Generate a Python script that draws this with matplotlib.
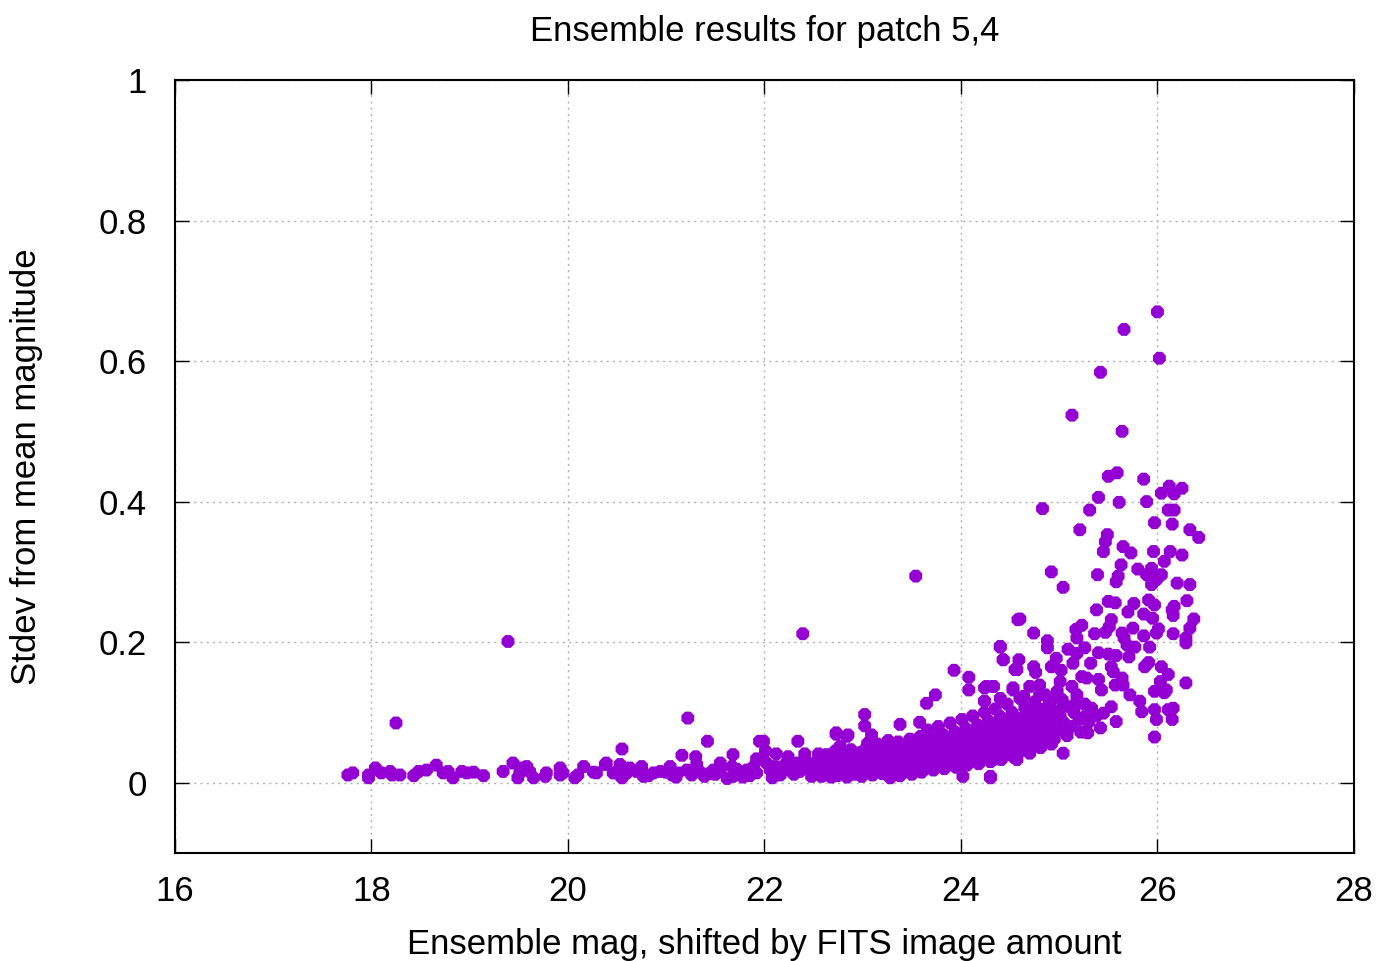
import numpy as np
import matplotlib
matplotlib.use('Agg')
import matplotlib.pyplot as plt

plt.rcParams['font.family'] = ['Liberation Sans', 'DejaVu Sans']

# bright end, sparse flat part (mag 17.7 - 20.6)
bright_x = [17.76, 17.81, 17.97, 17.97, 18.04, 18.10, 18.19, 18.21, 18.29, 18.43,
            18.48, 18.56, 18.66, 18.73, 18.78, 18.83, 18.92, 18.97, 19.04, 19.14,
            19.34, 19.44, 19.51, 19.53, 19.58, 19.61, 19.49, 19.65, 19.78, 19.77,
            19.92, 19.92, 19.95, 20.07, 20.10, 20.16, 20.26, 20.29, 20.38, 20.39,
            20.46, 20.53, 20.55, 20.56, 20.60, 18.25, 19.39, 20.55]
bright_y = [0.011, 0.014, 0.011, 0.007, 0.021, 0.014, 0.016, 0.011, 0.011, 0.010,
            0.016, 0.018, 0.025, 0.014, 0.016, 0.007, 0.016, 0.014, 0.015, 0.010,
            0.016, 0.028, 0.014, 0.021, 0.023, 0.016, 0.007, 0.007, 0.014, 0.009,
            0.021, 0.011, 0.014, 0.007, 0.011, 0.023, 0.015, 0.014, 0.026, 0.028,
            0.014, 0.026, 0.007, 0.016, 0.014, 0.085, 0.201, 0.048]

# mid range (mag 20.6 - 22.8)
mid_x = [20.48, 20.63, 20.70, 20.75, 20.77, 20.87, 20.94, 21.04, 21.06, 21.12,
         21.21, 21.26, 21.31, 21.34, 21.39, 21.48, 21.55, 21.56, 21.67, 21.68,
         21.75, 21.82, 21.89, 21.92, 22.02, 22.06, 22.11, 22.16, 22.21, 22.26,
         22.33, 22.36, 22.43, 22.46, 22.53, 22.58, 22.67, 22.70, 22.73, 22.77,
         22.80, 22.84, 21.22, 21.42, 22.39, 21.95, 21.99, 22.34, 22.73, 22.84,
         21.16, 21.68, 22.01, 21.30, 22.12, 22.24, 22.41, 22.55, 21.92, 20.82,
         21.10, 21.50, 21.62, 21.78, 21.85, 22.08, 22.30, 22.48, 22.62, 21.00,
         21.44, 21.72, 22.18, 22.40, 22.65]
mid_y = [0.014, 0.021, 0.016, 0.023, 0.009, 0.014, 0.016, 0.023, 0.011, 0.014,
         0.018, 0.011, 0.026, 0.016, 0.009, 0.018, 0.028, 0.021, 0.023, 0.009,
         0.014, 0.018, 0.023, 0.014, 0.028, 0.018, 0.023, 0.011, 0.026, 0.018,
         0.028, 0.016, 0.030, 0.021, 0.026, 0.016, 0.037, 0.023, 0.011, 0.052,
         0.033, 0.023, 0.092, 0.059, 0.212, 0.059, 0.059, 0.059, 0.069, 0.066,
         0.039, 0.040, 0.045, 0.037, 0.041, 0.037, 0.041, 0.041, 0.034, 0.010,
         0.008, 0.012, 0.006, 0.008, 0.010, 0.007, 0.012, 0.009, 0.011, 0.015,
         0.013, 0.019, 0.017, 0.022, 0.020]

# dense rising band (mag 22.5 - 25.4)
band_x = [22.50, 22.51, 22.53, 22.55, 22.56, 22.58, 22.60, 22.61, 22.63, 22.65,
          22.66, 22.68, 22.70, 22.71, 22.72, 22.74, 22.75, 22.77, 22.78, 22.80,
          22.81, 22.82, 22.84, 22.85, 22.87, 22.88, 22.90, 22.91, 22.92, 22.94,
          22.95, 22.96, 22.98, 22.99, 23.00, 23.01, 23.03, 23.04, 23.05, 23.07,
          23.08, 23.10, 23.11, 23.12, 23.14, 23.15, 23.16, 23.18, 23.19, 23.20,
          23.22, 23.23, 23.25, 23.26, 23.27, 23.29, 23.30, 23.31, 23.32, 23.34,
          23.35, 23.36, 23.38, 23.39, 23.40, 23.41, 23.43, 23.44, 23.45, 23.47,
          23.48, 23.50, 23.51, 23.52, 23.53, 23.55, 23.56, 23.57, 23.58, 23.59,
          23.60, 23.61, 23.63, 23.64, 23.65, 23.66, 23.67, 23.68, 23.70, 23.71,
          23.72, 23.73, 23.74, 23.75, 23.76, 23.77, 23.79, 23.80, 23.81, 23.82,
          23.83, 23.85, 23.86, 23.87, 23.88, 23.89, 23.90, 23.91, 23.93, 23.94,
          23.95, 23.96, 23.97, 23.98, 24.00, 24.01, 24.02, 24.03, 24.04, 24.05,
          24.06, 24.08, 24.09, 24.10, 24.11, 24.12, 24.13, 24.15, 24.16, 24.17,
          24.18, 24.19, 24.20, 24.21, 24.23, 24.24, 24.25, 24.26, 24.27, 24.28,
          24.30, 24.31, 24.32, 24.33, 24.34, 24.35, 24.36, 24.38, 24.39, 24.40,
          24.41, 24.42, 24.44, 24.45, 24.46, 24.47, 24.49, 24.50, 24.51, 24.52,
          24.54, 24.55, 24.56, 24.57, 24.59, 24.60, 24.61, 24.62, 24.64, 24.65,
          24.66, 24.67, 24.69, 24.70, 24.71, 24.72, 24.74, 24.75, 24.77, 24.78,
          24.80, 24.81, 24.82, 24.84, 24.85, 24.86, 24.88, 24.89, 24.90, 24.92,
          24.93, 24.95, 24.96, 24.98, 25.00, 25.01, 25.03, 25.05, 25.08, 25.10,
          25.12, 25.15, 25.18, 25.20, 25.22, 25.26, 25.30, 25.33, 25.38, 25.42,
          23.45, 23.62, 23.78, 23.92, 24.07, 24.22, 24.37, 24.48, 24.63, 24.79,
          23.05, 23.24, 23.57, 23.84, 24.14, 24.29, 24.58, 24.73, 24.91, 25.06]
band_y = [0.012, 0.022, 0.030, 0.018, 0.035, 0.009, 0.025, 0.013, 0.040, 0.020,
          0.031, 0.008, 0.016, 0.027, 0.045, 0.010, 0.022, 0.034, 0.014, 0.019,
          0.040, 0.028, 0.008, 0.025, 0.015, 0.047, 0.030, 0.012, 0.021, 0.038,
          0.018, 0.027, 0.043, 0.009, 0.024, 0.035, 0.015, 0.050, 0.020, 0.030,
          0.041, 0.011, 0.026, 0.017, 0.036, 0.055, 0.022, 0.032, 0.045, 0.013,
          0.028, 0.040, 0.019, 0.060, 0.025, 0.035, 0.050, 0.014, 0.030, 0.021,
          0.044, 0.058, 0.010, 0.027, 0.038, 0.049, 0.017, 0.033, 0.023, 0.045,
          0.062, 0.012, 0.029, 0.040, 0.053, 0.019, 0.035, 0.025, 0.048, 0.066,
          0.015, 0.031, 0.043, 0.057, 0.021, 0.075, 0.037, 0.028, 0.050, 0.064,
          0.018, 0.034, 0.046, 0.058, 0.024, 0.080, 0.040, 0.030, 0.053, 0.068,
          0.020, 0.036, 0.049, 0.062, 0.026, 0.085, 0.043, 0.033, 0.056, 0.072,
          0.022, 0.039, 0.051, 0.066, 0.028, 0.090, 0.046, 0.035, 0.060, 0.077,
          0.025, 0.042, 0.055, 0.070, 0.031, 0.095, 0.049, 0.038, 0.064, 0.082,
          0.027, 0.045, 0.058, 0.075, 0.034, 0.100, 0.053, 0.041, 0.068, 0.088,
          0.030, 0.048, 0.062, 0.080, 0.037, 0.105, 0.057, 0.044, 0.073, 0.094,
          0.033, 0.052, 0.067, 0.086, 0.040, 0.112, 0.061, 0.047, 0.078, 0.100,
          0.036, 0.056, 0.072, 0.092, 0.043, 0.120, 0.065, 0.050, 0.084, 0.107,
          0.060, 0.077, 0.098, 0.046, 0.070, 0.054, 0.090, 0.115, 0.065, 0.082,
          0.105, 0.050, 0.075, 0.058, 0.096, 0.125, 0.070, 0.088, 0.112, 0.055,
          0.080, 0.062, 0.102, 0.130, 0.075, 0.094, 0.118, 0.085, 0.067, 0.108,
          0.080, 0.100, 0.125, 0.090, 0.072, 0.112, 0.086, 0.106, 0.095, 0.078,
          0.020, 0.024, 0.028, 0.030, 0.034, 0.038, 0.041, 0.045, 0.048, 0.052,
          0.056, 0.044, 0.063, 0.058, 0.074, 0.084, 0.086, 0.108, 0.098, 0.110]

# scattered outliers above the band (mag 22.7 - 24.6)
upper_x = [23.54, 24.58, 24.40, 24.43, 23.93, 24.08, 24.08, 23.74, 23.65, 23.02,
           23.02, 22.73, 22.85, 23.09, 23.38, 23.58, 24.02, 24.30, 24.24, 24.33,
           24.24, 24.53, 24.55, 23.28, 22.70]
upper_y = [0.294, 0.232, 0.193, 0.175, 0.160, 0.150, 0.132, 0.125, 0.113, 0.097,
           0.081, 0.071, 0.068, 0.068, 0.083, 0.086, 0.009, 0.007, 0.135, 0.137,
           0.116, 0.132, 0.161, 0.007, 0.014]

# faint end, broad scatter (mag 24.3 - 26.4)
faint_x = [25.13, 25.64, 25.50, 25.59, 25.86, 25.40, 25.61, 25.89, 24.83, 25.31,
           26.04, 26.12, 26.17, 26.25, 26.11, 26.17, 25.97, 26.15, 26.33, 26.42,
           25.21, 25.49, 25.47, 25.45, 25.65, 25.73, 25.96, 26.13, 26.25, 26.07,
           25.63, 25.80, 25.94, 24.92, 25.39, 25.60, 25.58, 25.89, 26.04, 25.99,
           26.20, 26.33, 25.04, 25.94, 25.50, 25.57, 25.38, 25.76, 25.91, 25.97,
           26.30, 25.70, 25.86, 26.15, 26.17, 26.16, 25.95, 26.37, 24.60, 25.53,
           25.23, 25.51, 25.17, 25.75, 26.33, 26.01, 24.74, 25.36, 25.47, 25.64,
           25.99, 26.16, 25.18, 25.66, 25.86, 26.29, 24.88, 26.29, 24.40, 25.69,
           25.77, 25.92, 24.88, 25.09, 25.26, 25.40, 25.50, 25.58, 25.71, 24.43,
           24.59, 24.97, 25.18, 25.32, 25.91, 25.87, 26.04, 24.74, 24.57, 24.76,
           24.92, 25.02, 25.14, 25.53, 25.55, 26.11, 26.03, 26.29, 25.23, 25.40,
           25.64, 25.65, 25.57, 24.26, 24.33, 24.53, 24.70, 24.80, 25.01, 25.13,
           25.28, 25.43, 25.97, 26.09, 26.07, 25.72, 24.24, 24.40, 24.64, 24.80,
           24.91, 25.18, 25.16, 25.82, 25.84, 25.97, 26.11, 26.16, 26.15, 25.99,
           25.45, 25.53, 25.58, 25.26, 25.29, 25.04, 24.88, 24.67, 24.53, 25.97,
           25.04, 24.57, 24.70, 24.82, 24.30, 24.33, 26.00, 25.66, 26.02, 25.42]
faint_y = [0.523, 0.500, 0.436, 0.441, 0.432, 0.406, 0.399, 0.400, 0.390, 0.388,
           0.412, 0.422, 0.411, 0.419, 0.388, 0.388, 0.370, 0.368, 0.360, 0.349,
           0.360, 0.353, 0.343, 0.329, 0.336, 0.327, 0.329, 0.329, 0.324, 0.315,
           0.310, 0.304, 0.305, 0.300, 0.296, 0.294, 0.286, 0.296, 0.296, 0.289,
           0.284, 0.282, 0.278, 0.282, 0.258, 0.256, 0.246, 0.255, 0.260, 0.253,
           0.259, 0.243, 0.240, 0.246, 0.251, 0.238, 0.234, 0.233, 0.233, 0.232,
           0.224, 0.222, 0.218, 0.220, 0.220, 0.219, 0.213, 0.212, 0.214, 0.213,
           0.213, 0.212, 0.206, 0.206, 0.209, 0.206, 0.202, 0.199, 0.194, 0.196,
           0.193, 0.193, 0.192, 0.190, 0.192, 0.185, 0.183, 0.181, 0.179, 0.175,
           0.175, 0.177, 0.184, 0.170, 0.171, 0.165, 0.165, 0.165, 0.161, 0.157,
           0.165, 0.160, 0.170, 0.165, 0.158, 0.154, 0.144, 0.142, 0.151, 0.147,
           0.149, 0.139, 0.139, 0.137, 0.137, 0.135, 0.137, 0.139, 0.144, 0.137,
           0.149, 0.132, 0.130, 0.132, 0.128, 0.125, 0.116, 0.120, 0.123, 0.125,
           0.116, 0.116, 0.109, 0.116, 0.101, 0.104, 0.104, 0.106, 0.090, 0.090,
           0.099, 0.108, 0.087, 0.094, 0.071, 0.109, 0.104, 0.099, 0.094, 0.065,
           0.042, 0.033, 0.042, 0.056, 0.009, 0.033, 0.670, 0.645, 0.604, 0.584]

mag = np.concatenate([bright_x, mid_x, band_x, upper_x, faint_x])
stdev = np.concatenate([bright_y, mid_y, band_y, upper_y, faint_y])

fig = plt.figure(figsize=(13.82, 9.61), dpi=100)
ax = fig.add_axes([0.1266, 0.1124, 0.8531, 0.8044])

ax.scatter(mag, stdev, s=100, marker='8', color='#9400d3', edgecolors='none', zorder=3)

ax.set_xlim(16, 28)
ax.set_ylim(-0.1, 1)
ax.set_xticks([16, 18, 20, 22, 24, 26, 28])
ax.set_yticks([0, 0.2, 0.4, 0.6, 0.8, 1])
ax.set_yticklabels(['0', '0.2', '0.4', '0.6', '0.8', '1'])
ax.tick_params(direction='in', length=10, width=1, top=True, right=True,
               labelsize=25, pad=16)
ax.tick_params(axis='y', pad=20)
ax.grid(True, linestyle=(0, (1.5, 3)), color='#b0b0b0', linewidth=1)
for s in ax.spines.values():
    s.set_linewidth(1.5)

ax.set_title('Ensemble results for patch 5,4', fontsize=25, pad=28)
ax.set_xlabel('Ensemble mag, shifted by FITS image amount', fontsize=25, labelpad=14)
ax.set_ylabel('Stdev from mean magnitude', fontsize=25, labelpad=40)

fig.savefig('out.png', dpi=100)
